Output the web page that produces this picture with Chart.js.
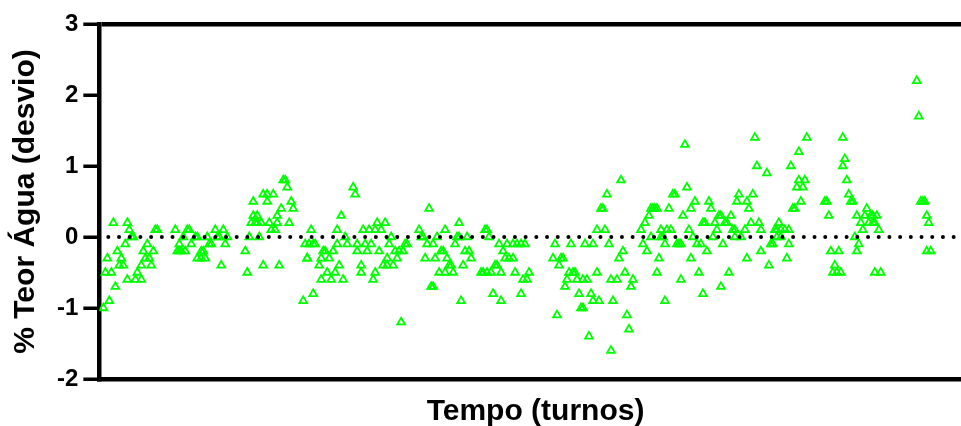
<!DOCTYPE html>
<html>
<head>
<meta charset="utf-8">
<script src="https://cdn.jsdelivr.net/npm/chart.js@4/dist/chart.umd.min.js"></script>
<style>
  html, body { margin: 0; padding: 0; background: #fff; overflow: hidden; }
</style>
</head>
<body>
<canvas id="grafico" width="978" height="426"></canvas>
<script>
// turno de cada medição e desvio do teor de água (%)
const turnos = [
  2, 3, 4, 5, 6, 7, 8, 9, 10, 11, 12, 13, 14, 14, 15, 16, 17, 18, 19, 21, 21, 22, 23, 24, 25, 26, 27, 28, 29,
  38, 39, 40, 40, 41, 42, 43, 44, 45, 46, 48, 49, 49, 51, 51, 52, 53, 54, 55, 56, 58, 59, 60, 61, 62, 63, 64,
  73, 74, 75, 76, 77, 77, 78, 79, 79, 80, 81, 82, 82, 84, 84, 85, 86, 87, 88, 89, 89, 90, 91, 92, 93, 94, 95, 96, 97,
  102, 103, 104, 104, 105, 106, 107, 107, 108, 110, 111, 111, 112, 113, 114, 115, 116, 117, 118, 119, 119, 120,
  121, 122, 123, 124, 127, 128, 129, 129, 131, 131, 132, 133, 134, 135, 136, 137, 138, 138, 139, 140, 141, 142,
  143, 144, 144, 145, 146, 147, 148, 149, 150, 151, 152, 153, 154,
  160, 161, 162, 163, 164, 165, 166, 167, 167, 168, 169, 170, 171, 172, 173, 173, 174, 175, 176, 177, 178, 179,
  180, 180, 181, 182, 183, 184, 185, 186,
  191, 192, 193, 194, 194, 195, 196, 197, 198, 199, 200, 201, 201, 202, 203, 204, 205, 207, 207, 208, 209, 211,
  211, 212, 213, 214, 215,
  227, 228, 229, 230, 231, 232, 233, 234, 235, 236, 237, 238, 239, 240, 241, 242, 242, 243, 244, 245, 246, 247,
  247, 249, 249, 250, 251, 252, 253, 254, 255, 256, 256, 257, 259, 260, 261, 262, 263, 264, 265, 266, 267,
  271, 272, 273, 274, 275, 276, 276, 277, 278, 279, 279, 280, 281, 281, 282, 283, 283, 284, 285, 286, 287, 288,
  289, 290, 291, 291, 292, 293, 294, 295, 296, 296, 297, 298, 299, 300, 301, 302, 302, 303, 304, 305, 306, 307,
  308, 309, 310, 311, 311, 312, 313, 314, 315, 316, 317, 318, 318, 319, 320, 321, 323, 324, 324, 325, 326, 327,
  328, 329, 330, 331, 331, 334, 335, 336, 337, 338, 339, 339, 340, 341, 341, 343, 344, 345, 345, 346, 347, 348,
  349, 350, 350, 351, 352, 353, 354,
  363, 364, 365, 366, 367, 368, 369, 370, 371, 372, 372, 373, 374, 375, 376, 377, 378, 379, 379, 380, 381, 382,
  383, 384, 385, 386, 387, 387, 388, 388, 389, 390, 391,
  409, 410, 411, 412, 413, 414, 414, 415, 416
];

const desvio = [
  -1.0, -0.5, -0.3, -0.9, -0.5, 0.2, -0.7, -0.2, -0.4, -0.3, -0.4, -0.1, -0.6, 0.2, 0.1, 0, 0, -0.6, -0.5, -0.4, -0.6, -0.2, -0.3, -0.1, -0.3, -0.4, -0.2, 0.1, 0.1,
  0.1, -0.2, -0.2, -0.1, -0.2, 0, -0.2, 0.1, 0.1, -0.1, 0, -0.3, 0, -0.2, -0.3, -0.2, -0.3, 0, -0.1, -0.1, 0.1, 0, 0, -0.4, 0.1, -0.1, 0,
  -0.2, -0.5, 0, 0.2, 0.5, 0.3, 0.2, 0.3, 0.2, 0, 0.2, -0.4, 0.6, 0.6, 0.5, 0.2, 0.1, 0.6, 0.1, 0.3, 0.2, -0.4, 0.4, 0.8, 0.8, 0.7, 0.2, 0.5, 0.4,
  -0.9, -0.1, -0.3, -0.3, -0.1, 0.1, -0.1, -0.8, -0.1, -0.4, -0.3, -0.6, -0.2, -0.2, -0.5, -0.3, -0.6, -0.2, -0.5, -0.1, 0.1, -0.4,
  0.3, -0.6, 0, -0.1, 0.7, 0.6, -0.2, -0.1, -0.4, -0.5, 0.1, -0.1, -0.2, 0.1, -0.1, -0.6, 0.1, -0.5, 0.2, -0.2, 0.1, -0.4,
  0.2, -0.3, -0.4, -0.1, 0, -0.4, -0.2, -0.3, -0.2, -1.2, -0.2, -0.1, -0.1,
  0.1, 0, 0, -0.3, -0.1, 0.4, -0.7, -0.7, -0.1, -0.3, 0, -0.5, -0.2, -0.2, 0.1, -0.5, -0.3, -0.4, -0.4, -0.5, -0.1, 0,
  0, 0.2, -0.9, -0.4, -0.2, 0, -0.2, -0.3,
  -0.5, -0.5, 0.1, 0.1, -0.5, 0, -0.5, -0.8, -0.4, -0.4, -0.1, -0.9, -0.5, -0.2, -0.3, -0.1, -0.3, -0.3, -0.1, -0.5, -0.1, -0.1,
  -0.8, -0.6, -0.1, -0.6, -0.5,
  -0.3, -0.1, -1.1, -0.4, -0.3, -0.3, -0.7, -0.6, -0.5, -0.1, -0.5, -0.5, -0.6, -0.8, -1.0, -0.6, -1.0, -0.1, -0.6, -1.4, -0.8, -0.1,
  -0.9, -0.5, 0.1, -0.9, 0.4, 0.4, 0.1, 0.6, -0.1, -1.6, -0.6, -0.9, -0.6, -0.3, 0.8, -0.2, -0.5, -1.1, -1.3, -0.7, -0.6,
  0.1, -0.1, 0.2, -0.2, 0.3, 0, 0.4, 0.4, 0.4, 0.4, -0.5, -0.3, 0, 0.1, 0, -0.1, -0.9, 0.1, 0.4, 0.1, 0.6, 0.6,
  -0.1, -0.1, -0.1, -0.6, 0.3, 1.3, 0.7, 0.1, 0.4, -0.3, 0, 0.5, -0.1, -0.5, -0.1, -0.8, 0.2, 0.2, -0.2, 0.5, 0.4, 0,
  0.2, 0.1, 0.3, 0.3, -0.7, -0.1, 0.2, 0.2, -0.5, 0.3, 0.1, 0.1, 0, 0.5, 0.6, 0, 0.1, -0.3, 0.5, 0.4, 0.2, 0.6,
  1.4, 1.0, 0.2, -0.2, 0.1, 0.9, -0.4, -0.1, -0.1, 0.1, 0, 0.1, 0.2, 0.1, 0, 0.1, -0.3, 0.1, -0.1, 1.0, 0.4, 0.4,
  0.7, 1.2, 0.8, 0.5, 0.7, 0.8, 1.4,
  0.5, 0.5, 0.3, -0.2, -0.5, -0.4, -0.5, -0.2, -0.5, 1.0, 1.4, 1.1, 0.8, 0.6, 0.5, 0.5, 0, -0.2, 0.3, -0.1, 0.2, 0.1,
  0.3, 0.4, 0.2, 0.3, 0.2, 0.3, 0.2, -0.5, 0.3, 0.1, -0.5,
  2.2, 1.7, 0.5, 0.5, 0.5, 0.3, -0.2, 0.2, -0.2
];

const yTicks = [-2, -1, 0, 1, 2, 3];
const xMin = 0;
const xMax = 436.5;
const inicioLinhaZero = 4.5;
const fimLinhaZero = 428;

const fonte = "'Liberation Sans', Arial, sans-serif";

let pontos = turnos.map((t, i) => {
  return { x: t, y: desvio[i] };
});

let linhaZero = [
  { x: inicioLinhaZero, y: 0 },
  { x: fimLinhaZero, y: 0 },
];

const ctx = document.getElementById("grafico");

window.myChart = new Chart(ctx, {
  type: "scatter",
  data: {
    datasets: [
      {
        type: "line",
        data: linhaZero,
        borderColor: "#000",
        borderWidth: 4,
        borderDash: [0, 10.7],
        borderCapStyle: "round",
        pointRadius: 0,
        order: 0,
      },
      {
        data: pontos,
        pointStyle: "triangle",
        pointRadius: 4.5,
        borderColor: "#00ff00",
        backgroundColor: "rgba(255,255,255,0)",
        borderWidth: 1.8,
        order: 1,
      },
    ],
  },
  options: {
    responsive: false,
    animation: false,
    devicePixelRatio: 1,
    layout: { padding: { left: 8, right: 0, top: 24, bottom: 0 } },
    plugins: { legend: { display: false }, tooltip: { enabled: false } },
    scales: {
      x: {
        type: "linear",
        min: xMin,
        max: xMax,
        grid: { display: false },
        ticks: { display: false },
        border: { display: true, color: "#000", width: 4.5 },
        title: {
          display: true,
          text: "Tempo (turnos)",
          color: "#000",
          font: { family: fonte, size: 30, weight: "bold" },
          padding: { top: 7, bottom: -4 },
        },
      },
      y: {
        min: yTicks[0],
        max: yTicks[yTicks.length - 1],
        afterBuildTicks: (scale) => {
          scale.ticks = yTicks.map((v) => ({ value: v }));
        },
        ticks: {
          color: "#000",
          padding: 5,
          font: { family: fonte, size: 24, weight: "bold" },
        },
        grid: {
          drawOnChartArea: true,
          drawTicks: true,
          tickLength: 16,
          lineWidth: 4.5,
          color: (c) => (c.tick && c.tick.value === yTicks[yTicks.length - 1] ? "#000" : "rgba(0,0,0,0)"),
          tickColor: "#000",
          tickWidth: 3.5,
        },
        border: { display: true, color: "#000", width: 4.5 },
        title: {
          display: true,
          text: "% Teor Água (desvio)",
          color: "#000",
          font: { family: fonte, size: 30, weight: "bold" },
          padding: { top: 0, bottom: 8 },
        },
      },
    },
  },
});
</script>
</body>
</html>
